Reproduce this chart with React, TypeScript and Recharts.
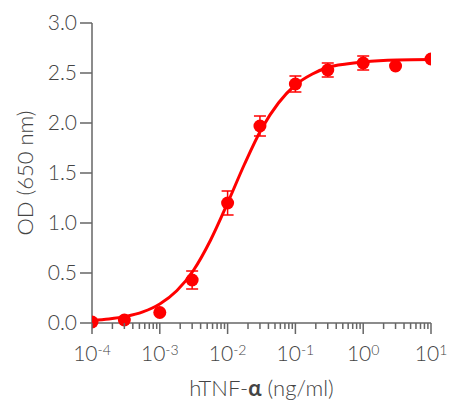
import React from "react"
import { ComposedChart, Line, Scatter, XAxis, YAxis, ErrorBar } from "recharts"

// measured points (mean ± error)
const doses = [1e-4, 3e-4, 1e-3, 3e-3, 1e-2, 3e-2, 1e-1, 3e-1, 1, 3, 10]
const odMeans = [0.01, 0.03, 0.105, 0.43, 1.2, 1.97, 2.39, 2.53, 2.6, 2.57, 2.64]
const odErrors = [0, 0, 0, 0.09, 0.12, 0.1, 0.08, 0.07, 0.07, 0, 0]

// fitted curve
const fitDoses = [
  1e-4, 1.78e-4, 3.16e-4, 5.62e-4, 1e-3, 1.78e-3, 3.16e-3, 5.62e-3, 1e-2,
  1.78e-2, 3.16e-2, 5.62e-2, 1e-1, 1.78e-1, 3.16e-1, 5.62e-1, 1, 3.16, 10
]
const fitOd = [
  0.027, 0.041, 0.066, 0.111, 0.19, 0.322, 0.53, 0.83, 1.2, 1.59, 1.94, 2.2,
  2.38, 2.49, 2.56, 2.59, 2.61, 2.63, 2.635
]

const xTicks = [1e-4, 1e-3, 1e-2, 1e-1, 1, 10]
const xTickExponents = ["-4", "-3", "-2", "-1", "0", "1"]
const yTicks = [0, 0.5, 1, 1.5, 2, 2.5, 3]

// log minor ticks 2..9 in each decade
const minorTicks = xTicks
  .slice(0, -1)
  .flatMap((d) => [2, 3, 4, 5, 6, 7, 8, 9].map((k) => k * d))
const allXTicks = [...xTicks, ...minorTicks].sort((a, b) => a - b)

const points = doses.map((dose, i) => ({ dose, od: odMeans[i], err: odErrors[i] }))
const fit = fitDoses.map((dose, i) => ({ dose, od: fitOd[i] }))

const RED = "#ff0000"
const AXIS = "#666"
const TEXT = "#444"
const FONT = "Lato, 'Open Sans', sans-serif"

// draws its own tick mark: long for decades, short for minor ticks
function LogTick(props: any) {
  const { x, y, payload } = props
  const i = xTicks.indexOf(payload.value)
  if (i < 0) {
    return <line x1={x} y1={y} x2={x} y2={y + 6} stroke={AXIS} strokeWidth={1.5} />
  }
  return (
    <g>
      <line x1={x} y1={y} x2={x} y2={y + 11} stroke={AXIS} strokeWidth={1.5} />
      <text x={x} y={y + 38} textAnchor="middle" fill={TEXT} fontSize={21} fontFamily={FONT} fontWeight={300}>
        <tspan>10</tspan>
        <tspan dy={-6} fontSize={14}>{xTickExponents[i]}</tspan>
      </text>
    </g>
  )
}

function XTitle(props: any) {
  const { viewBox } = props
  return (
    <text
      x={viewBox.x + viewBox.width / 2}
      y={viewBox.y + 73}
      textAnchor="middle"
      fill={TEXT}
      fontSize={22}
      fontFamily={FONT}
      fontWeight={300}
    >
      hTNF-<tspan fontWeight={700}>α</tspan> (ng/ml)
    </text>
  )
}

function YTitle(props: any) {
  const { viewBox } = props
  const cx = viewBox.x + 24
  const cy = viewBox.y + viewBox.height / 2
  return (
    <text
      x={cx}
      y={cy}
      transform={`rotate(-90, ${cx}, ${cy})`}
      textAnchor="middle"
      dominantBaseline="central"
      fill={TEXT}
      fontSize={22}
      fontFamily={FONT}
      fontWeight={300}
    >
      OD (650 nm)
    </text>
  )
}

const Dot = (p: any) => <circle cx={p.cx} cy={p.cy} r={6.5} fill={RED} />

export default function App() {
  return (
    <div style={{ position: "absolute", left: 0, top: 0, background: "#fff" }}>
      <ComposedChart width={449} height={400} margin={{ top: 23, right: 18, left: 0, bottom: 0 }}>
        <XAxis
          dataKey="dose"
          type="number"
          scale="log"
          domain={[1e-4, 10]}
          allowDataOverflow
          ticks={allXTicks}
          interval={0}
          tickSize={0}
          tickMargin={0}
          tick={<LogTick />}
          tickLine={false}
          axisLine={{ stroke: AXIS, strokeWidth: 1.5 }}
          height={77}
          label={<XTitle />}
        />
        <YAxis
          type="number"
          domain={[0, 3]}
          ticks={yTicks}
          interval={0}
          width={92}
          tickSize={12}
          tickMargin={3}
          tickFormatter={(v: number) => v.toFixed(1)}
          tick={{ fill: TEXT, fontSize: 21, fontFamily: FONT, fontWeight: 300 }}
          axisLine={{ stroke: AXIS, strokeWidth: 1.5 }}
          tickLine={{ stroke: AXIS, strokeWidth: 1.5 }}
          label={<YTitle />}
        />
        <Line
          data={fit}
          dataKey="od"
          type="monotone"
          stroke={RED}
          strokeWidth={3}
          dot={false}
          activeDot={false}
          isAnimationActive={false}
        />
        <Scatter data={points} dataKey="od" fill={RED} shape={Dot} isAnimationActive={false}>
          <ErrorBar dataKey="err" direction="y" width={6} stroke={RED} strokeWidth={1.5} />
        </Scatter>
      </ComposedChart>
    </div>
  )
}
